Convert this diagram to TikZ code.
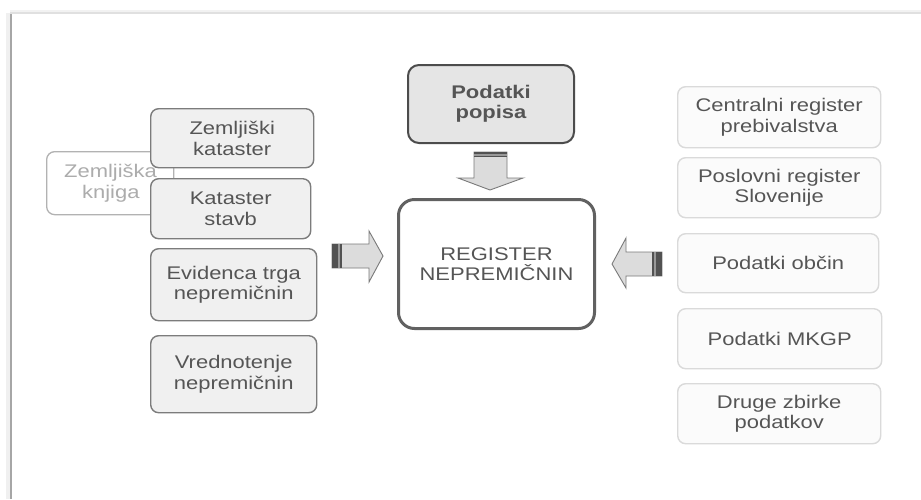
\documentclass[tikz,border=0pt]{standalone}
\usepackage{fontspec}
\setmainfont[FakeStretch=1.2]{Liberation Sans}
\definecolor{txt}{HTML}{555555}
\definecolor{srcfill}{HTML}{F0F0F0}
\definecolor{srcline}{HTML}{7C7C7C}
\definecolor{extfill}{HTML}{FBFBFB}
\definecolor{extline}{HTML}{DADADA}
\definecolor{arrfill}{HTML}{DCDCDC}
\definecolor{arrline}{HTML}{7A7A7A}
\tikzset{
  lbl/.style={font=\fontsize{18.3}{20.5}\selectfont, text=txt, align=center, inner sep=0pt},
  srcbox/.style={lbl, draw=srcline, fill=srcfill, line width=1.4pt, rounded corners=8pt},
  extbox/.style={lbl, draw=extline, fill=extfill, line width=1.4pt, rounded corners=8pt},
  bookbox/.style={lbl, text=gray!65, draw=gray!60, fill=white, line width=1.3pt, rounded corners=8pt},
  censusbox/.style={lbl, font=\fontsize{18.3}{20.5}\selectfont\bfseries, draw=black!70, fill=black!10, line width=2pt, rounded corners=11pt},
  mainbox/.style={lbl, draw=black!62, fill=white, line width=3pt, rounded corners=16pt},
  fatarrow/.style={draw=arrline, fill=arrfill, line width=0.9pt, line join=miter},
  stripe/.style={fill=black!68, draw=none},
}
\begin{document}
\begin{tikzpicture}[x=1pt,y=-1pt]
\useasboundingbox (0,0) rectangle (921,499);
\fill[white] (0,0) rectangle (921,499);

% page frame with a soft shadow on the left
\fill[black!6] (6,13) rectangle (10,499);
\draw[black!35, line width=2pt] (10.5,13) -- (10.5,499);
\draw[black!12, line width=1.5pt] (10,13) -- (921,13);
\draw[black!5, line width=2pt] (10,11) -- (921,11);

% land register, partly hidden behind the cadastre boxes
\node[bookbox, minimum width=127, minimum height=63, anchor=north west, text width=120, align=left] (zknj) at (46,151) {\hspace*{14pt}Zemljiška\\\hspace*{32pt}knjiga};

% left-hand source registers
\node[srcbox, minimum width=163, minimum height=59, anchor=north west] (zkat) at (150,108) {Zemljiški\\kataster};
\node[srcbox, minimum width=160, minimum height=60, anchor=north west] (kst) at (150,178) {Kataster\\stavb};
\node[srcbox, minimum width=166, minimum height=72, anchor=north west] (etn) at (150,248) {Evidenca trga\\nepremičnin};
\node[srcbox, minimum width=166, minimum height=77, anchor=north west] (vn) at (150,335) {Vrednotenje\\nepremičnin};

% census data
\node[censusbox, minimum width=166, minimum height=78, anchor=north west] (pop) at (407,64) {Podatki\\popisa};

% central register
\node[mainbox, minimum width=196, minimum height=129, anchor=north west] (reg) at (397,198) {REGISTER\\NEPREMIČNIN};

% right-hand external sources
\node[extbox, minimum width=203, minimum height=61, anchor=north west] (crp) at (677,86) {Centralni register\\prebivalstva};
\node[extbox, minimum width=203, minimum height=60, anchor=north west] (prs) at (677,157) {Poslovni register\\Slovenije};
\node[extbox, minimum width=201, minimum height=59, anchor=north west] (obc) at (677,233) {Podatki občin};
\node[extbox, minimum width=204, minimum height=60, anchor=north west] (mkgp) at (677,308) {Podatki MKGP};
\node[extbox, minimum width=203, minimum height=60, anchor=north west] (druge) at (677,383) {Druge zbirke\\podatkov};

% downward block arrow: census -> register
\draw[fatarrow] (474,152) -- (507,152) -- (507,178) -- (523,178) -- (490,190)
  -- (458,178) -- (474,178) -- cycle;
\fill[stripe] (474,151.5) rectangle (507,154);
\fill[black!40] (474,154) rectangle (507,155.5);
\fill[stripe] (474,155.5) rectangle (507,157);

% block arrow from the left sources into the register
\draw[fatarrow] (332,244) -- (369,244) -- (369,231) -- (383,256) -- (369,282)
  -- (369,268) -- (332,268) -- cycle;
\fill[stripe] (332,244) rectangle (338,268);
\fill[black!40] (338,244) rectangle (340,268);
\fill[stripe] (340,244) rectangle (342,268);

% block arrow from the right sources into the register
\draw[fatarrow] (662,252) -- (626,252) -- (626,238) -- (612,264) -- (626,288)
  -- (626,276) -- (662,276) -- cycle;
\fill[stripe] (656,252) rectangle (662,276);
\fill[black!40] (654,252) rectangle (656,276);
\fill[stripe] (652,252) rectangle (654,276);
\end{tikzpicture}
\end{document}
